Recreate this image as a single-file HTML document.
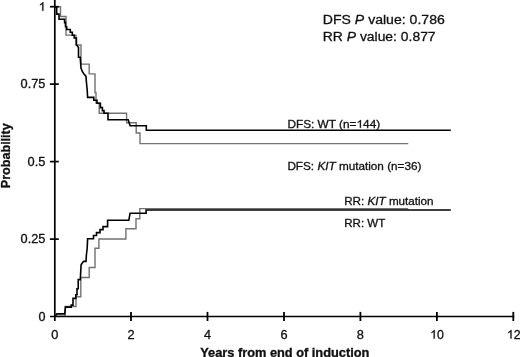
<!DOCTYPE html>
<html><head><meta charset="utf-8">
<style>
html,body{margin:0;padding:0;background:#fff;}
body{width:520px;height:357px;overflow:hidden;position:relative;font-family:"Liberation Sans",sans-serif;}
svg{position:absolute;left:0;top:0;will-change:transform;}
text{font-family:"Liberation Sans",sans-serif;fill:#111;stroke:#111;stroke-width:0.3px;}
</style></head><body>
<svg width="520" height="357" viewBox="0 0 520 357">
<rect width="520" height="357" fill="#fff"/>
<!-- grey curves -->
<g fill="none" stroke="#727272" stroke-width="1.4" stroke-linejoin="miter">
<path d="M54.8 6.7 H60.5 V16.5 H66 V35.1 H76 V45 H81 V64.1 H89.2 V73.9 H95 V92.5 H96 V103 H99.2 V113.3 H126.6 V122.7 H136.2 V133 H140 V143.6 H408.3"/>
<path d="M54.8 316.3 H65.2 V306.5 H76 V296.8 H80.8 V277.5 H89.2 V267.5 H95 V248.3 H98.9 V239 H125.9 V228.8 H136 V218.7 H139.8 V208.6 H408.2"/>
</g>
<!-- black curves -->
<g fill="none" stroke="#000" stroke-width="1.6" stroke-linejoin="miter">
<path d="M54.8 6.7 H56.7 V14.1 H59 V19.2 H64.6 V22.6 H65.5 V26.8 H66.7 V29.5 H70.3 V32.3 H72.3 V35.3 H74.2 V38 H76.4 V44.6 L78.5 47.5 V57.2 H80.2 L81 68 L82.3 71.5 L83.8 73.8 L86 76.4 L86.4 82 L87.2 90 L87.6 97.4 H93.8 V100.3 H97 V103.2 H100.4 V107.6 H102.4 V110.6 H104 V113.3 H108 V119.7 H128.2 L130.1 125.8 H146.3 V130.2 H450.8"/>
<path d="M54.8 316.5 L56.9 313.9 H64.7 L65.5 307.1 H71.2 V305.1 H73 V298.4 H75.8 V294.7 H77 V288.8 H78.2 V279.6 H80.3 L81.1 264.8 L83.5 261.4 H86 L86.4 255 L87.2 248 L87.6 238.7 H93.5 V235.5 H96.5 V232.6 H100 V229.6 H103 V226.6 H107.6 V220.2 H128.8 L130.1 213.2 H146.1 V210 H450.8"/>
</g>
<!-- axes -->
<g stroke="#000" stroke-width="1.7" fill="none">
<line x1="54.8" y1="0" x2="54.8" y2="321"/>
<line x1="49.9" y1="316.5" x2="514.3" y2="316.5"/>
<line x1="49.9" y1="6.7" x2="58.8" y2="6.7"/>
<line x1="49.9" y1="84.1" x2="58.8" y2="84.1"/>
<line x1="49.9" y1="161.6" x2="58.8" y2="161.6"/>
<line x1="49.9" y1="239.1" x2="58.8" y2="239.1"/>
</g>
<g stroke="#000" stroke-width="1.8" fill="none">
<line x1="131" y1="311.9" x2="131" y2="321"/>
<line x1="207.5" y1="311.9" x2="207.5" y2="321"/>
<line x1="284" y1="311.9" x2="284" y2="321"/>
<line x1="360.4" y1="311.9" x2="360.4" y2="321"/>
<line x1="436.9" y1="311.9" x2="436.9" y2="321"/>
<line x1="513.3" y1="311.9" x2="513.3" y2="321"/>
</g>
<!-- y tick labels -->
<g font-size="11.9">
<path d="M763 0H583V1147Q518 1085 412.5 1023T223 930V1104Q374 1175 487 1276T647 1472H763Z" transform="translate(38.60 10.85) scale(0.006270 -0.005900)" fill="#111" stroke="#111" stroke-width="48" stroke-linejoin="round"/>
<text x="20.6" y="88.35" textLength="24.8" lengthAdjust="spacingAndGlyphs">0.75</text>
<text x="27.6" y="165.85" textLength="17.8" lengthAdjust="spacingAndGlyphs">0.5</text>
<text x="20.6" y="243.35" textLength="24.8" lengthAdjust="spacingAndGlyphs">0.25</text>
<text x="38.4" y="320.85" textLength="7" lengthAdjust="spacingAndGlyphs">0</text>
</g>
<!-- x tick labels -->
<g font-size="12" text-anchor="middle">
<text x="54.7" y="338.6" textLength="7.1" lengthAdjust="spacingAndGlyphs">0</text>
<text x="131" y="338.6" textLength="7.1" lengthAdjust="spacingAndGlyphs">2</text>
<text x="207.5" y="338.6" textLength="7.1" lengthAdjust="spacingAndGlyphs">4</text>
<text x="284" y="338.6" textLength="7.1" lengthAdjust="spacingAndGlyphs">6</text>
<text x="360.4" y="338.6" textLength="7.1" lengthAdjust="spacingAndGlyphs">8</text>
<path d="M763 0H583V1147Q518 1085 412.5 1023T223 930V1104Q374 1175 487 1276T647 1472H763Z" transform="translate(430.10 338.60) scale(0.006065 -0.005859)" fill="#111" stroke="#111" stroke-width="49" stroke-linejoin="round"/>
<text x="437.01" y="338.6" text-anchor="start" textLength="6.9" lengthAdjust="spacingAndGlyphs">0</text>
<path d="M763 0H583V1147Q518 1085 412.5 1023T223 930V1104Q374 1175 487 1276T647 1472H763Z" transform="translate(506.90 338.60) scale(0.006065 -0.005859)" fill="#111" stroke="#111" stroke-width="49" stroke-linejoin="round"/>
<text x="513.81" y="338.6" text-anchor="start" textLength="6.9" lengthAdjust="spacingAndGlyphs">2</text>
</g>
<text x="200.2" y="356.95" font-size="12" font-weight="bold" textLength="169.2" lengthAdjust="spacingAndGlyphs">Years from end of induction</text>
<text transform="translate(10 188.2) rotate(-90)" font-size="12" font-weight="bold" textLength="65" lengthAdjust="spacingAndGlyphs">Probability</text>
<text x="322.8" y="24.45" font-size="13.7" textLength="122" lengthAdjust="spacingAndGlyphs">DFS <tspan font-style="italic">P</tspan> value: 0.786</text>
<text x="322.8" y="41.35" font-size="13.7" textLength="112.8" lengthAdjust="spacingAndGlyphs">RR <tspan font-style="italic">P</tspan> value: 0.877</text>
<text x="287.4" y="127.85" font-size="11" textLength="92.8" lengthAdjust="spacingAndGlyphs">DFS: WT (n=<tspan visibility="hidden">1</tspan>44)</text>
<path d="M763 0H583V1147Q518 1085 412.5 1023T223 930V1104Q374 1175 487 1276T647 1472H763Z" transform="translate(356.51 127.85) scale(0.005798 -0.005371)" fill="#111" stroke="#111" stroke-width="52" stroke-linejoin="round"/>
<text x="287.4" y="169.8" font-size="11" textLength="134" lengthAdjust="spacingAndGlyphs">DFS: <tspan font-style="italic">KIT</tspan> mutation (n=36)</text>
<text x="344.2" y="205.3" font-size="11" textLength="89.4" lengthAdjust="spacingAndGlyphs">RR: <tspan font-style="italic">KIT</tspan> mutation</text>
<text x="344.3" y="226.5" font-size="11" textLength="41" lengthAdjust="spacingAndGlyphs">RR: WT</text>
</svg>
</body></html>
